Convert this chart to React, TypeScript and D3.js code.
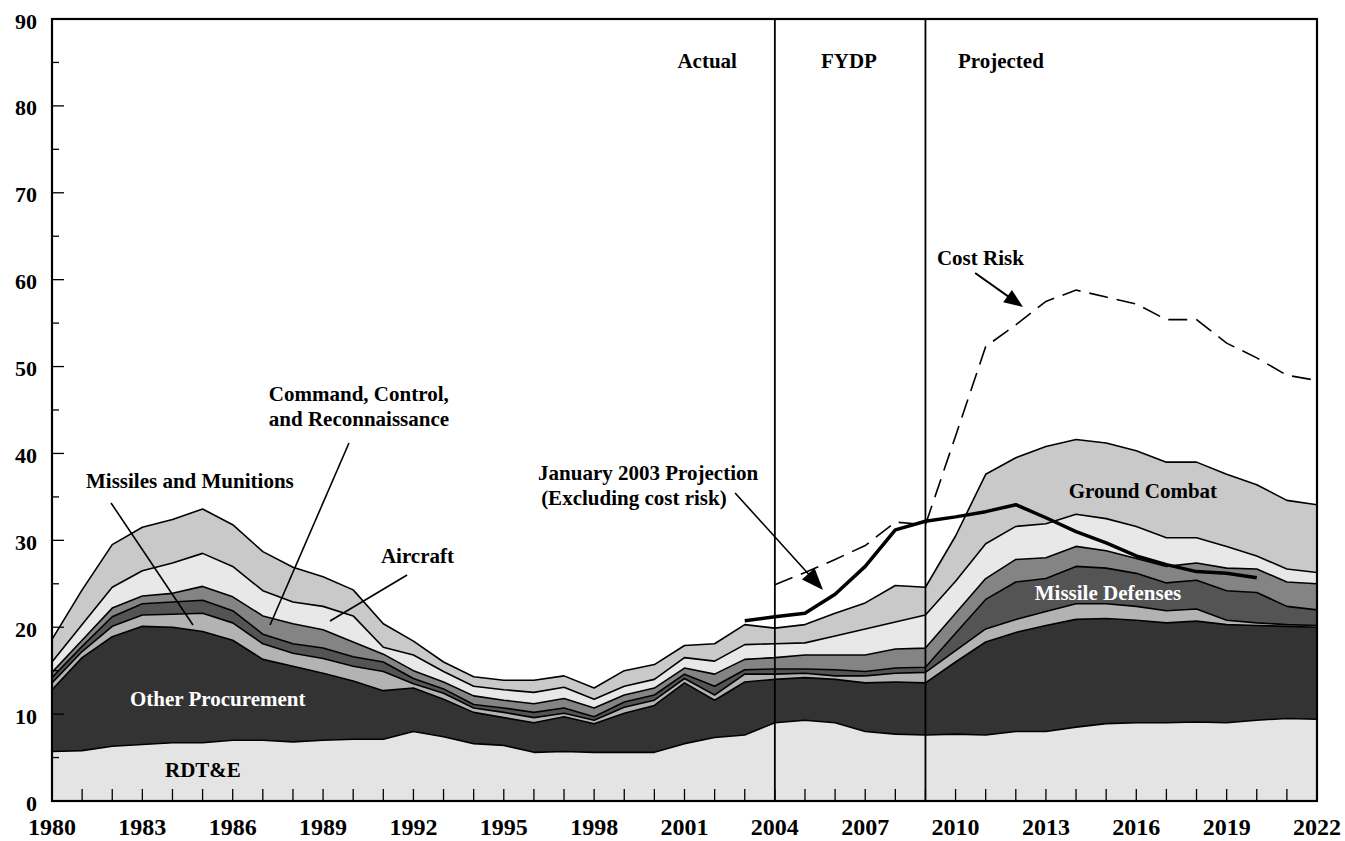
import React from "react";
import * as d3 from "d3";

const years = d3.range(1980, 2023);

const rdte = [5.7,5.8,6.3,6.5,6.7,6.7,7.0,7.0,6.8,7.0,7.1,7.1,8.0,7.4,6.6,6.4,5.6,5.7,5.6,5.6,5.6,6.6,7.3,7.6,9.0,9.3,9.0,8.0,7.7,7.6,7.7,7.6,8.0,8.0,8.5,8.9,9.0,9.0,9.1,9.0,9.3,9.5,9.4];
const otherProcurement = [7.1,10.7,12.6,13.6,13.3,12.8,11.5,9.3,8.7,7.7,6.7,5.6,5.0,4.3,3.6,3.2,3.4,4.0,3.3,4.5,5.4,7.0,4.3,6.1,5.0,4.9,5.0,5.6,6.0,6.0,8.3,10.7,11.4,12.2,12.4,12.1,11.8,11.5,11.6,11.3,10.9,10.6,10.6];
const missilesMunitions = [0.8,0.7,1.2,1.3,1.5,2.1,2.0,1.8,1.5,1.7,1.7,2.2,0.5,0.7,0.5,0.6,0.6,0.4,0.4,0.7,0.6,0.5,0.6,0.9,0.6,0.5,0.4,0.8,1.0,1.2,1.3,1.5,1.5,1.6,1.8,1.7,1.6,1.4,1.4,0.5,0.3,0.2,0.2];
const missileDefenses = [0.6,0.6,1.1,1.3,1.4,1.5,1.4,1.1,1.1,1.2,1.1,1.1,0.6,0.5,0.4,0.5,0.6,0.6,0.4,0.6,0.6,0.5,1.0,0.5,0.6,0.5,0.7,0.5,0.6,0.6,2.0,3.4,4.3,3.8,4.3,4.1,3.8,3.2,3.3,3.4,3.5,2.1,1.8];
const commandControl = [0.6,0.7,1.0,0.9,1.0,1.6,1.6,2.1,2.3,2.1,1.7,0.9,0.9,0.8,1.0,0.9,1.0,1.1,1.0,0.8,0.8,0.7,1.4,1.2,1.3,1.6,1.7,1.9,2.2,2.2,2.3,2.4,2.6,2.4,2.3,2.0,1.7,1.9,2.0,2.6,2.7,2.8,3.0];
const aircraft = [1.2,1.8,2.4,2.9,3.5,3.8,3.5,2.9,2.5,2.7,3.0,0.8,1.8,1.2,1.1,1.2,1.3,1.3,1.0,1.0,1.0,1.2,1.5,1.7,1.6,1.4,2.2,3.0,3.1,3.8,3.7,4.0,3.8,3.9,3.7,3.7,3.7,3.3,2.9,2.5,1.5,1.5,1.3];
const groundCombat = [2.6,4.0,4.9,5.0,5.0,5.1,4.8,4.5,4.0,3.4,3.0,2.7,1.6,1.1,1.1,1.1,1.4,1.3,1.3,1.8,1.7,1.4,2.0,2.3,1.8,2.1,2.6,3.0,4.2,3.2,5.2,8.0,7.9,8.9,8.6,8.7,8.7,8.7,8.7,8.3,8.2,7.9,7.8];

const jan2003Years = d3.range(2003, 2021);
const jan2003Projection = [20.75,21.2,21.6,23.8,27.0,31.2,32.2,32.7,33.3,34.1,32.6,31.0,29.7,28.2,27.2,26.4,26.2,25.7];

const costRiskYears = d3.range(2004, 2023);
const costRisk = [24.9,26.3,27.8,29.4,32.1,31.8,42.0,52.3,54.8,57.5,58.8,58.0,57.2,55.4,55.4,52.7,51.0,49.0,48.4];

const seriesKeys = ["rdte","other","missiles","defenses","c2r","aircraft","ground"];
const seriesValues = [rdte, otherProcurement, missilesMunitions, missileDefenses, commandControl, aircraft, groundCombat];
const seriesFills = ["#e4e4e4","#333333","#b3b3b3","#545454","#848484","#e8e8e8","#c9c9c9"];

const xTickLabels = d3.range(1980, 2023, 3);
const yTickLabels = d3.range(0, 91, 10);
const dividerYears = [2004, 2009];

const FONT = "'Liberation Serif', 'Times New Roman', serif";

export default function App() {
  const left = 52, right = 1317, top = 19, bottom = 801;
  const x = d3.scaleLinear().domain([1980, 2022]).range([left, right]);
  const y = d3.scaleLinear().domain([0, 90]).range([bottom, top]);

  const table = years.map((yr, i) => {
    const row: any = { year: yr };
    seriesKeys.forEach((k, j) => (row[k] = seriesValues[j][i]));
    return row;
  });
  const stacked = d3.stack().keys(seriesKeys)(table as any);

  const area = d3.area<any>()
    .x((d) => x(d.data.year))
    .y0((d) => y(d[0]))
    .y1((d) => y(d[1]));
  const topLine = d3.line<any>()
    .x((d) => x(d.data.year))
    .y((d) => y(d[1]));

  const simpleLine = d3.line<[number, number]>()
    .x((d) => x(d[0]))
    .y((d) => y(d[1]));

  const janPts: [number, number][] = jan2003Years.map((yr, i) => [yr, jan2003Projection[i]]);
  const costPts: [number, number][] = costRiskYears.map((yr, i) => [yr, costRisk[i]]);

  const labelStyle = { fontFamily: FONT, fontWeight: 700, fontSize: 21 } as const;

  const arrowHead = (x1: number, y1: number, x2: number, y2: number, len: number, wid: number) => {
    const ax = x(x1), ay = y(y1), bx = x(x2), by = y(y2);
    const dx = bx - ax, dy = by - ay;
    const L = Math.hypot(dx, dy);
    const ux = dx / L, uy = dy / L;
    const px = -uy, py = ux;
    const baseX = bx - ux * len, baseY = by - uy * len;
    return {
      line: `M${ax},${ay}L${baseX + ux * 2},${baseY + uy * 2}`,
      head: `M${bx},${by}L${baseX + px * wid / 2},${baseY + py * wid / 2}L${baseX - px * wid / 2},${baseY - py * wid / 2}Z`,
    };
  };

  const costArrow = arrowHead(2010.65, 60.77, 2012.24, 56.85, 19, 15);
  const janArrow = arrowHead(2002.68, 35.45, 2005.6, 24.28, 22, 17);

  const plainLines: [number, number, number, number][] = [
    [1989.86, 41.2, 1987.24, 20.26],
    [1981.96, 34.3, 1984.68, 20.26],
    [1991.79, 26.01, 1989.23, 20.72],
  ];

  return (
    <svg width={1345} height={841} style={{ position: "absolute", left: 0, top: 0, background: "#fff" }}>
      {stacked.map((s, i) => (
        <path key={"a" + i} d={area(s as any) || ""} fill={seriesFills[i]} stroke="none" />
      ))}
      {stacked.map((s, i) => (
        <path key={"l" + i} d={topLine(s as any) || ""} fill="none" stroke="#000" strokeWidth={1.6} strokeLinejoin="round" />
      ))}

      {d3.range(1981, 2022).map((yr) => (
        <line key={"xt" + yr} x1={x(yr)} x2={x(yr)} y1={bottom} y2={bottom - 12} stroke="#000" strokeWidth={1.3} />
      ))}
      {d3.range(5, 90, 5).map((v) => (
        <line key={"yt" + v} x1={left} x2={left + (v % 10 === 0 ? 12 : 7)} y1={y(v)} y2={y(v)} stroke="#000" strokeWidth={1.3} />
      ))}

      {dividerYears.map((yr) => (
        <line key={"dv" + yr} x1={x(yr)} x2={x(yr)} y1={top} y2={bottom} stroke="#000" strokeWidth={1.8} />
      ))}

      <path d={simpleLine(costPts) || ""} fill="none" stroke="#000" strokeWidth={1.6} strokeDasharray="19 9" />
      <path d={simpleLine(janPts) || ""} fill="none" stroke="#000" strokeWidth={3.5} strokeLinejoin="round" />

      <rect x={left} y={top} width={right - left} height={bottom - top} fill="none" stroke="#000" strokeWidth={2.2} />

      {yTickLabels.map((v) => (
        <text key={"yl" + v} x={37} y={y(v) + 9.5} textAnchor="end" style={{ fontFamily: FONT, fontWeight: 700, fontSize: 22 }}>{v}</text>
      ))}
      {xTickLabels.map((yr) => (
        <text key={"xl" + yr} x={x(yr)} y={835} textAnchor="middle" style={{ fontFamily: FONT, fontWeight: 700, fontSize: 24 }}>{yr}</text>
      ))}

      {plainLines.map((p, i) => (
        <line key={"pl" + i} x1={x(p[0])} y1={y(p[1])} x2={x(p[2])} y2={y(p[3])} stroke="#000" strokeWidth={1.6} />
      ))}
      <path d={costArrow.line} stroke="#000" strokeWidth={2} fill="none" />
      <path d={costArrow.head} fill="#000" />
      <path d={janArrow.line} stroke="#000" strokeWidth={1.6} fill="none" />
      <path d={janArrow.head} fill="#000" />

      <text x={x(2002.74)} y={y(84.36)} textAnchor="end" style={labelStyle}>Actual</text>
      <text x={x(2006.46)} y={y(84.36)} textAnchor="middle" style={labelStyle}>FYDP</text>
      <text x={x(2010.08)} y={y(84.36)} style={labelStyle}>Projected</text>
      <text x={x(2009.38)} y={y(61.69)} style={labelStyle}>Cost Risk</text>
      <text x={x(1996.14)} y={y(36.94)} style={labelStyle}>January 2003 Projection</text>
      <text x={x(1996.24)} y={y(34.07)} style={labelStyle}>(Excluding cost risk)</text>
      <text x={x(1987.2)} y={y(46.03)} style={labelStyle}>Command, Control,</text>
      <text x={x(1987.2)} y={y(43.16)} style={labelStyle}>and Reconnaissance</text>
      <text x={x(1981.13)} y={y(36.02)} style={labelStyle}>Missiles and Munitions</text>
      <text x={x(1990.92)} y={y(27.39)} style={labelStyle}>Aircraft</text>
      <text x={x(1982.59)} y={y(10.93)} style={{ ...labelStyle, fill: "#fff" }}>Other Procurement</text>
      <text x={x(1985.01)} y={y(2.76)} textAnchor="middle" style={labelStyle}>RDT&amp;E</text>
      <text x={x(2016.22)} y={y(34.87)} textAnchor="middle" style={labelStyle}>Ground Combat</text>
      <text x={x(2015.06)} y={y(23.13)} textAnchor="middle" style={{ ...labelStyle, fill: "#fff" }}>Missile Defenses</text>
    </svg>
  );
}
